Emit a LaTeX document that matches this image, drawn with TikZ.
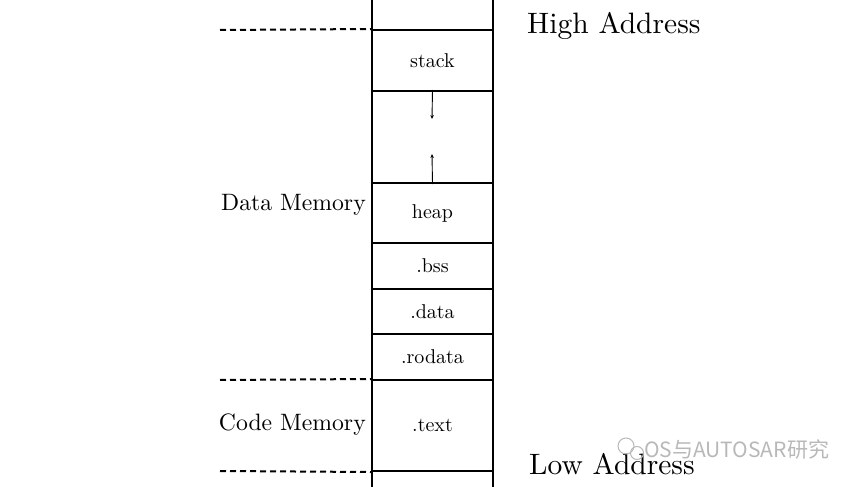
\documentclass[tikz,border=0pt]{standalone}
\usepackage{fontspec}
\newfontfamily\cjk{Noto Sans CJK SC}
\usetikzlibrary{arrows.meta}
\newcommand{\celltxt}[1]{\scalebox{2.0}{#1}}
\newcommand{\lbltxt}[1]{\scalebox{2.37}{#1}}
\newcommand{\addrtxt}[1]{\scalebox{2.95}{#1}}
\tikzset{
  cell/.style={draw, line width=2pt, minimum width=121pt, inner sep=0pt, font=\fontsize{10}{12}\selectfont},
  lbl/.style={inner sep=0pt, font=\fontsize{10}{12}\selectfont},
  addr/.style={inner sep=0pt, anchor=west, font=\fontsize{10}{12}\selectfont},
  dashline/.style={line width=2pt, dash pattern=on 6pt off 4pt},
  growarrow/.style={line width=0.9pt, -{Stealth[length=4pt,width=3.5pt]}},
  wm/.style={inner sep=0pt, anchor=west, text=black!28, font=\cjk\fontsize{21}{24}\selectfont}
}
\begin{document}
\begin{tikzpicture}[x=1pt,y=-1pt]
\useasboundingbox (0,0) rectangle (865,487);
% memory column
\node[cell, minimum height=50pt] (top) at (432.5,5) {};
\node[cell, minimum height=61pt] (stack) at (432.5,60.5) {\celltxt{stack}};
\node[cell, minimum height=92pt] (gap) at (432.5,137) {};
\node[cell, minimum height=60pt] (heap) at (432.5,213) {\celltxt{heap}};
\node[cell, minimum height=46pt] (bss) at (432.5,266) {\celltxt{.bss}};
\node[cell, minimum height=45pt] (data) at (432.5,311.5) {\celltxt{.data}};
\node[cell, minimum height=46pt] (rodata) at (432.5,357) {\celltxt{.rodata}};
\node[cell, minimum height=91pt] (text) at (432.5,425.5) {\celltxt{.text}};
\node[cell, minimum height=40pt] (bottom) at (432.5,491) {};
% growth arrows
\coordinate (dtip) at (432,119);
\coordinate (utip) at (432,154);
\draw[growarrow] (gap.north) -- (dtip);
\draw[growarrow] (gap.south) -- (utip);
% dashed boundaries
\coordinate (d1) at (220,30);
\coordinate (d2) at (220,380);
\coordinate (d3) at (220,471);
\draw[dashline] (d1) -- (stack.north west);
\draw[dashline] (d2) -- (text.north west);
\draw[dashline] (d3) -- (text.south west);
% labels
\node[lbl, anchor=east] (dm) at (366,205) {\lbltxt{Data Memory}};
\node[lbl, anchor=east] (cm) at (366,425) {\lbltxt{Code Memory}};
\node[addr] (high) at (527,26) {\addrtxt{High Address}};
\node[addr] (low) at (529,464) {\addrtxt{Low Address}};
% watermark
\node[wm] (wmtext) at (644,449) {OS与AUTOSAR研究};
\draw[black!28, line width=1pt] (626,446) circle (8pt);
\draw[black!28, line width=1pt] (637,453) circle (6.5pt);
\end{tikzpicture}
\end{document}
